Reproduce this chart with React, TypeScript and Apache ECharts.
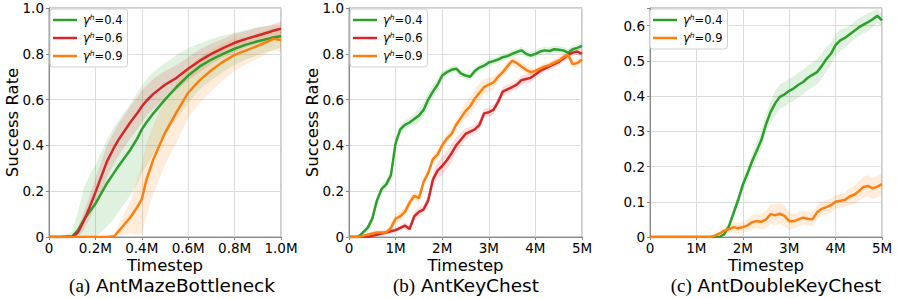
import React, { useEffect, useRef } from 'react';
import * as echarts from 'echarts';

// ---------- data ----------
const xA = [0, 0.05, 0.1, 0.125, 0.15, 0.175, 0.2, 0.25, 0.28, 0.3, 0.35, 0.38, 0.4, 0.42, 0.45, 0.5, 0.55, 0.6, 0.65, 0.7, 0.75, 0.8, 0.85, 0.9, 0.95, 0.97, 1.0];
const greenA = [0, 0, 0.003, 0.03, 0.075, 0.11, 0.145, 0.235, 0.28, 0.31, 0.38, 0.43, 0.47, 0.5, 0.54, 0.6, 0.655, 0.705, 0.745, 0.775, 0.8, 0.822, 0.84, 0.855, 0.867, 0.872, 0.877];
const greenAStd = [0, 0, 0.02, 0.08, 0.14, 0.16, 0.17, 0.19, 0.2, 0.2, 0.2, 0.2, 0.19, 0.19, 0.18, 0.16, 0.14, 0.12, 0.1, 0.09, 0.08, 0.07, 0.065, 0.06, 0.055, 0.055, 0.05];
const redA = [0, 0, 0, 0.02, 0.07, 0.13, 0.195, 0.33, 0.39, 0.425, 0.5, 0.54, 0.57, 0.595, 0.625, 0.665, 0.695, 0.735, 0.77, 0.8, 0.825, 0.848, 0.865, 0.88, 0.895, 0.902, 0.91];
const redAStd = [0, 0, 0, 0.02, 0.04, 0.05, 0.06, 0.07, 0.07, 0.07, 0.07, 0.07, 0.07, 0.065, 0.065, 0.06, 0.055, 0.05, 0.05, 0.045, 0.04, 0.04, 0.035, 0.035, 0.03, 0.03, 0.03];
const orangeA = [0, 0, 0, 0, 0, 0, 0, 0, 0.003, 0.025, 0.085, 0.13, 0.165, 0.25, 0.34, 0.455, 0.545, 0.63, 0.685, 0.728, 0.765, 0.795, 0.815, 0.835, 0.857, 0.866, 0.86];
const orangeAStd = [0, 0, 0, 0, 0, 0, 0, 0, 0.005, 0.03, 0.07, 0.12, 0.15, 0.16, 0.15, 0.14, 0.13, 0.11, 0.1, 0.09, 0.08, 0.07, 0.06, 0.055, 0.05, 0.05, 0.05];

const xB = [0, 0.1, 0.2, 0.3, 0.4, 0.5, 0.6, 0.7, 0.8, 0.9, 1.0, 1.1, 1.2, 1.3, 1.4, 1.5, 1.6, 1.7, 1.8, 1.9, 2.0, 2.1, 2.2, 2.3, 2.4, 2.5, 2.6, 2.7, 2.8, 2.9, 3.0, 3.1, 3.2, 3.3, 3.4, 3.5, 3.6, 3.7, 3.8, 3.9, 4.0, 4.1, 4.2, 4.3, 4.4, 4.5, 4.6, 4.7, 4.8, 4.9, 5.0];
const greenB = [0, 0, 0, 0.02, 0.04, 0.08, 0.16, 0.21, 0.23, 0.27, 0.41, 0.47, 0.49, 0.5, 0.515, 0.53, 0.555, 0.6, 0.635, 0.665, 0.705, 0.72, 0.73, 0.735, 0.715, 0.705, 0.7, 0.725, 0.74, 0.748, 0.762, 0.768, 0.775, 0.785, 0.79, 0.8, 0.808, 0.815, 0.8, 0.792, 0.8, 0.81, 0.815, 0.812, 0.82, 0.818, 0.815, 0.805, 0.82, 0.826, 0.835];
const greenBStd = [0, 0, 0, 0.01, 0.015, 0.02, 0.02, 0.02, 0.02, 0.02, 0.02, 0.02, 0.02, 0.02, 0.025, 0.03, 0.03, 0.03, 0.03, 0.025, 0.02, 0.015, 0.015, 0.015, 0.015, 0.015, 0.015, 0.015, 0.015, 0.015, 0.015, 0.015, 0.015, 0.015, 0.015, 0.015, 0.015, 0.015, 0.015, 0.015, 0.015, 0.015, 0.015, 0.015, 0.015, 0.015, 0.015, 0.015, 0.015, 0.015, 0.015];
const redB = [0, 0, 0, 0, 0, 0.005, 0.01, 0.015, 0.02, 0.025, 0.03, 0.04, 0.05, 0.035, 0.09, 0.11, 0.12, 0.16, 0.25, 0.29, 0.31, 0.335, 0.365, 0.4, 0.425, 0.45, 0.46, 0.47, 0.49, 0.54, 0.545, 0.555, 0.59, 0.635, 0.645, 0.655, 0.665, 0.685, 0.69, 0.695, 0.71, 0.725, 0.735, 0.745, 0.755, 0.765, 0.78, 0.795, 0.805, 0.81, 0.8];
const redBStd = [0, 0, 0, 0, 0, 0.005, 0.005, 0.01, 0.01, 0.01, 0.01, 0.01, 0.015, 0.015, 0.02, 0.02, 0.02, 0.02, 0.03, 0.035, 0.04, 0.04, 0.04, 0.035, 0.03, 0.025, 0.02, 0.02, 0.02, 0.02, 0.02, 0.02, 0.02, 0.02, 0.02, 0.02, 0.02, 0.02, 0.02, 0.02, 0.015, 0.015, 0.015, 0.015, 0.015, 0.015, 0.015, 0.015, 0.015, 0.015, 0.015];
const orangeB = [0, 0, 0, 0.005, 0.01, 0.015, 0.02, 0.02, 0.02, 0.04, 0.08, 0.09, 0.11, 0.15, 0.18, 0.17, 0.24, 0.28, 0.34, 0.36, 0.4, 0.43, 0.45, 0.49, 0.52, 0.55, 0.57, 0.605, 0.63, 0.655, 0.665, 0.675, 0.7, 0.72, 0.745, 0.77, 0.76, 0.745, 0.73, 0.72, 0.725, 0.735, 0.745, 0.75, 0.76, 0.77, 0.785, 0.795, 0.755, 0.76, 0.775];
const orangeBStd = [0, 0, 0, 0.005, 0.005, 0.01, 0.01, 0.01, 0.01, 0.015, 0.02, 0.02, 0.02, 0.02, 0.02, 0.02, 0.02, 0.02, 0.02, 0.02, 0.02, 0.02, 0.02, 0.025, 0.03, 0.035, 0.04, 0.04, 0.04, 0.035, 0.03, 0.025, 0.02, 0.02, 0.02, 0.02, 0.02, 0.02, 0.02, 0.02, 0.015, 0.015, 0.015, 0.015, 0.015, 0.015, 0.015, 0.015, 0.015, 0.015, 0.015];

const xC = xB;
const greenC = [0, 0, 0, 0, 0, 0, 0, 0, 0, 0, 0, 0, 0, 0, 0, 0, 0.008, 0.03, 0.068, 0.105, 0.148, 0.18, 0.215, 0.245, 0.275, 0.32, 0.355, 0.38, 0.398, 0.405, 0.415, 0.422, 0.432, 0.44, 0.452, 0.46, 0.468, 0.485, 0.505, 0.52, 0.545, 0.558, 0.565, 0.575, 0.585, 0.595, 0.603, 0.61, 0.618, 0.628, 0.615];
const greenCStd = [0, 0, 0, 0, 0, 0, 0, 0, 0, 0, 0, 0, 0, 0, 0, 0, 0.004, 0.008, 0.012, 0.015, 0.018, 0.02, 0.022, 0.025, 0.025, 0.025, 0.03, 0.035, 0.035, 0.035, 0.035, 0.035, 0.035, 0.035, 0.035, 0.035, 0.035, 0.035, 0.035, 0.03, 0.03, 0.03, 0.028, 0.025, 0.025, 0.025, 0.025, 0.025, 0.022, 0.02, 0.018];
const orangeC = [0, 0, 0, 0, 0, 0, 0, 0, 0, 0, 0, 0, 0, 0, 0.004, 0.01, 0.018, 0.022, 0.028, 0.025, 0.028, 0.033, 0.042, 0.045, 0.043, 0.05, 0.065, 0.062, 0.066, 0.06, 0.045, 0.045, 0.05, 0.055, 0.052, 0.05, 0.07, 0.08, 0.085, 0.09, 0.1, 0.103, 0.105, 0.115, 0.12, 0.13, 0.142, 0.145, 0.138, 0.143, 0.15];
const orangeCStd = [0, 0, 0, 0, 0, 0, 0, 0, 0, 0, 0, 0, 0, 0, 0.003, 0.006, 0.01, 0.012, 0.015, 0.015, 0.015, 0.018, 0.02, 0.02, 0.022, 0.025, 0.028, 0.03, 0.03, 0.03, 0.025, 0.02, 0.02, 0.02, 0.02, 0.02, 0.02, 0.02, 0.02, 0.02, 0.02, 0.02, 0.02, 0.025, 0.025, 0.028, 0.03, 0.03, 0.03, 0.03, 0.03];

const NAME_04 = 'γʰ=0.4';
const NAME_06 = 'γʰ=0.6';
const NAME_09 = 'γʰ=0.9';
const captions = ['(a)', '(b)', '(c)'];
const captionNames = ['AntMazeBottleneck', 'AntKeyChest', 'AntDoubleKeyChest'];
const yAxisTitle = 'Success Rate';
const xAxisTitle = 'Timestep';

// ---------- styles ----------
const GREEN = '#2ca02c';
const RED = '#d62728';
const ORANGE = '#ff7f0e';
const FONT = 'DejaVu Sans';

type Line = { name: string; color: string; mean: number[]; std: number[] };

function buildSeries(panel: number, xs: number[], lines: Line[]) {
  const out: any[] = [];
  lines.forEach((ln, k) => {
    const upper = xs.map((x, i) => [x, ln.mean[i] + ln.std[i]]);
    const lower = xs.map((x, i) => [x, Math.max(0, ln.mean[i] - ln.std[i])]);
    const poly = upper.concat(lower.slice().reverse());
    out.push({
      type: 'custom', name: `band-${panel}-${k}`, xAxisIndex: panel, yAxisIndex: panel,
      coordinateSystem: 'cartesian2d', silent: true, clip: true, z: 1,
      data: [[xs[0], 0]],
      renderItem: (_p: any, api: any) => ({
        type: 'polygon',
        shape: { points: poly.map((pt) => api.coord(pt)) },
        style: { fill: ln.color, opacity: 0.15 },
      }),
    });
  });
  lines.forEach((ln) => {
    out.push({
      type: 'line', name: ln.name, xAxisIndex: panel, yAxisIndex: panel,
      data: xs.map((x, i) => [x, ln.mean[i]]), symbol: 'none', showSymbol: false,
      color: ln.color, lineStyle: { width: 2.5, color: ln.color }, itemStyle: { color: ln.color }, z: 3,
    });
  });
  return out;
}

const gridLeft = [49, 349, 650];
const gridWidth = [232, 233, 232];

function xAxisFor(i: number, max: number, interval: number, fmt: (v: number) => string) {
  return {
    gridIndex: i, type: 'value', min: 0, max, interval,
    axisLine: { show: true, onZero: false, lineStyle: { color: '#888', width: 1 } },
    axisTick: { show: true, length: 3, lineStyle: { color: '#888' } },
    axisLabel: { fontFamily: FONT, fontSize: 13.5, color: '#000', margin: 4, formatter: fmt },
    splitLine: { show: true, lineStyle: { color: '#dcdcdc', width: 1 } },
  };
}
function yAxisFor(i: number, max: number, interval: number, fmt: (v: number) => string) {
  return {
    gridIndex: i, type: 'value', min: 0, max, interval,
    axisLine: { show: true, lineStyle: { color: '#888', width: 1 } },
    axisTick: { show: true, length: 3, lineStyle: { color: '#888' } },
    axisLabel: { fontFamily: FONT, fontSize: 13.5, color: '#000', margin: 5, formatter: fmt },
    splitLine: { show: true, lineStyle: { color: '#dcdcdc', width: 1 } },
  };
}

function legendFor(left: number, names: string[]) {
  return {
    data: names, left, top: 9, orient: 'vertical', selectedMode: false,
    icon: 'rect', itemWidth: 24, itemHeight: 2.5, itemGap: 4,
    padding: [4, 5, 4, 3],
    backgroundColor: '#fff', borderColor: '#d0d0d0', borderWidth: 1, borderRadius: 3,
    formatter: (n: string) => `{g|γ}{h|h}{t|${n.slice(2)}}`,
    textStyle: {
      fontFamily: FONT, fontSize: 11, color: '#000', lineHeight: 14,
      rich: {
        g: { fontFamily: FONT, fontSize: 11.5, fontStyle: 'italic', color: '#000', padding: [0, 0, 0, 1] },
        h: { fontFamily: FONT, fontSize: 7.5, fontStyle: 'italic', color: '#000', padding: [0, 0, 6, 0] },
        t: { fontFamily: FONT, fontSize: 11.5, color: '#000' },
      },
    },
  };
}

export default function App() {
  const ref = useRef<HTMLDivElement>(null);
  useEffect(() => {
    if (!ref.current) return;
    const chart = echarts.init(ref.current, null, { renderer: 'svg' });
    const fmtY = (v: number) => (v === 0 ? '0' : v > 1.0001 ? '' : v.toFixed(1));
    const fmtYC = (v: number) => (v === 0 ? '0' : v > 0.6001 ? '' : v.toFixed(1));
    const fmtXA = (v: number) => (v === 0 ? '0' : v.toFixed(1) + 'M');
    const fmtXB = (v: number) => (v === 0 ? '0' : Math.round(v) + 'M');

    const series = [
      ...buildSeries(0, xA, [
        { name: NAME_04, color: GREEN, mean: greenA, std: greenAStd },
        { name: NAME_06, color: RED, mean: redA, std: redAStd },
        { name: NAME_09, color: ORANGE, mean: orangeA, std: orangeAStd },
      ]),
      ...buildSeries(1, xB, [
        { name: NAME_04, color: GREEN, mean: greenB, std: greenBStd },
        { name: NAME_06, color: RED, mean: redB, std: redBStd },
        { name: NAME_09, color: ORANGE, mean: orangeB, std: orangeBStd },
      ]),
      ...buildSeries(2, xC, [
        { name: NAME_04, color: GREEN, mean: greenC, std: greenCStd },
        { name: NAME_09, color: ORANGE, mean: orangeC, std: orangeCStd },
      ]),
    ];

    const centers = gridLeft.map((l, i) => l + gridWidth[i] / 2);
    const captionCenters = [172, 466, 776];
    const graphic: any[] = [];
    [0, 1].forEach((i) => {
      graphic.push({
        type: 'text', x: gridLeft[i] - 37, y: 122.5, rotation: Math.PI / 2,
        style: { text: yAxisTitle, fontFamily: FONT, fontSize: 16.5, fill: '#000', align: 'center', verticalAlign: 'middle' },
      });
    });
    [0, 1, 2].forEach((i) => {
      graphic.push({
        type: 'text', x: centers[i], y: 265,
        style: { text: xAxisTitle, fontFamily: FONT, fontSize: 16.5, fill: '#000', align: 'center', verticalAlign: 'middle' },
      });
      graphic.push({
        type: 'text', x: captionCenters[i], y: 285,
        style: {
          text: `{s|${captions[i]}} {n|${captionNames[i]}}`,
          fontFamily: FONT, fontSize: 18, fill: '#000', align: 'center', verticalAlign: 'middle',
          rich: {
            s: { fontFamily: 'Liberation Serif', fontSize: 19, fill: '#000' },
            n: { fontFamily: FONT, fontSize: 18.5, fill: '#000' },
          },
        },
      });
    });

    chart.setOption({
      animation: false,
      backgroundColor: '#fff',
      grid: gridLeft.map((l, i) => ({
        left: l, top: 8, width: gridWidth[i], height: 229,
        show: true, borderColor: '#999', borderWidth: 1, backgroundColor: 'transparent',
      })),
      xAxis: [xAxisFor(0, 1, 0.2, fmtXA), xAxisFor(1, 5, 1, fmtXB), xAxisFor(2, 5, 1, fmtXB)],
      yAxis: [yAxisFor(0, 1, 0.2, fmtY), yAxisFor(1, 1, 0.2, fmtY), yAxisFor(2, 0.65, 0.1, fmtYC)],
      legend: [
        legendFor(50, [NAME_04, NAME_06, NAME_09]),
        legendFor(350, [NAME_04, NAME_06, NAME_09]),
        legendFor(650, [NAME_04, NAME_09]),
      ],
      series,
      graphic,
    });
    return () => chart.dispose();
  }, []);
  return <div ref={ref} style={{ position: 'fixed', left: 0, top: 0, width: 897, height: 299 }} />;
}
